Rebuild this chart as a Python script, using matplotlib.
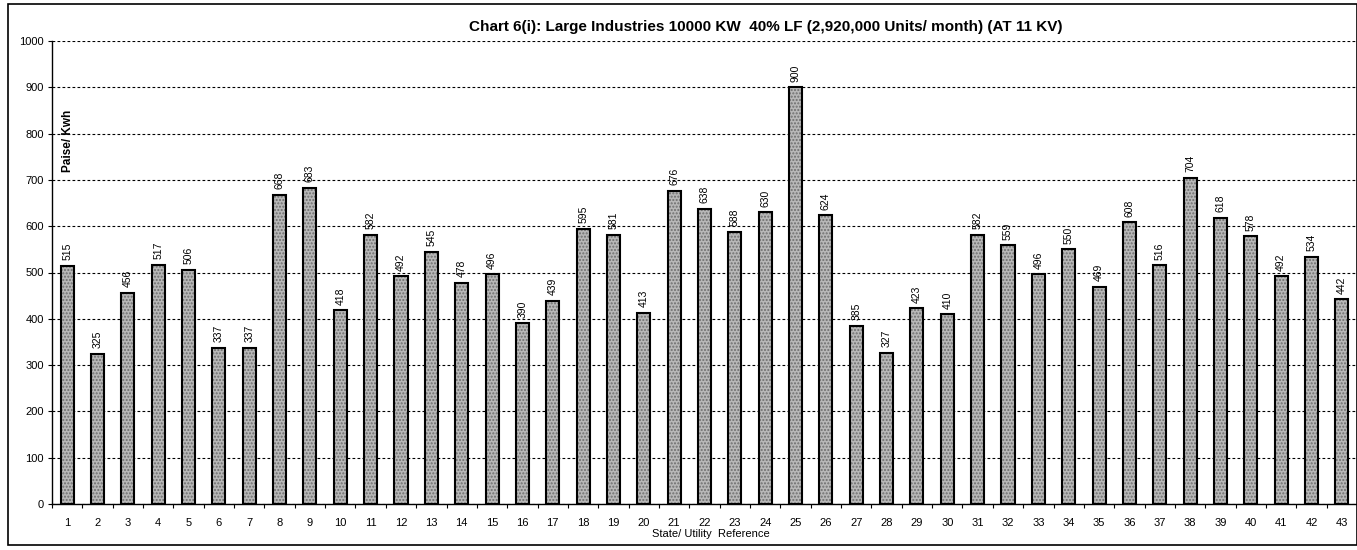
import matplotlib
matplotlib.use("Agg")
import matplotlib.pyplot as plt
from matplotlib.patches import Rectangle
from matplotlib.ticker import FixedLocator

plt.rcParams['font.family'] = ['Liberation Sans', 'DejaVu Sans']

refs = list(range(1, 44))
tariff = [515, 325, 456, 517, 506, 337, 337, 668, 683, 418,
          582, 492, 545, 478, 496, 390, 439, 595, 581, 413,
          676, 638, 588, 630, 900, 624, 385, 327, 423, 410,
          582, 559, 496, 550, 469, 608, 516, 704, 618, 578,
          492, 534, 442]
title = "Chart 6(i): Large Industries 10000 KW  40% LF (2,920,000 Units/ month) (AT 11 KV)"
ylabel = "Paise/ Kwh"
xlabel = "State/ Utility  Reference"

W, H = 1357, 550
fig = plt.figure(figsize=(W / 100, H / 100), dpi=100)
ax = fig.add_axes([52 / W, 1 - 504 / H, (W - 52) / W, (504 - 41) / H])

# stippled fill, then a crisp black outline on top
ax.bar(refs, tariff, width=0.43, color='#b8b8b8', edgecolor='#6e6e6e',
       hatch='.....', linewidth=0, zorder=3)
ax.bar(refs, tariff, width=0.43, fill=False, edgecolor='black',
       linewidth=1.5, zorder=4)

for x, v in zip(refs, tariff):
    ax.annotate(str(v), (x, v), xytext=(0, 4), textcoords='offset points',
                rotation=90, ha='center', va='bottom', fontsize=7.5, zorder=5)

ax.set_xlim(0.5, 43.5)
ax.set_ylim(0, 1000)
ax.set_yticks(range(0, 1001, 100))
ax.set_xticks(refs)
ax.set_xticklabels([str(r) for r in refs], fontsize=8)
ax.xaxis.set_minor_locator(FixedLocator([r + 0.5 for r in range(0, 44)]))
ax.tick_params(axis='x', which='major', length=0, pad=10)
ax.tick_params(axis='x', which='minor', length=3, width=0.8, direction='out')
ax.tick_params(axis='y', length=3, width=0.8, labelsize=8, pad=3)

ax.grid(axis='y', color='black', linestyle=(0, (2.5, 2)), linewidth=0.8, zorder=1)
ax.set_axisbelow(True)
for side in ('top', 'right'):
    ax.spines[side].set_visible(False)
ax.spines['left'].set_linewidth(1.0)
ax.spines['bottom'].set_linewidth(1.0)

ax.text(0.008, 0.785, ylabel, transform=ax.transAxes, rotation=90,
        ha='left', va='center', fontsize=8.5, fontweight='bold')

fig.text(766 / W, 1 - 27 / H, title, ha='center', va='center',
         fontsize=11, fontweight='bold')
fig.text(711 / W, 1 - 534 / H, xlabel, ha='center', va='center', fontsize=8)

fig.patches.append(Rectangle((8 / W, 1 - 545 / H), (W - 8) / W, (545 - 4) / H,
                             transform=fig.transFigure, fill=False,
                             edgecolor='black', linewidth=1.2))

fig.savefig("out.png", dpi=100)
